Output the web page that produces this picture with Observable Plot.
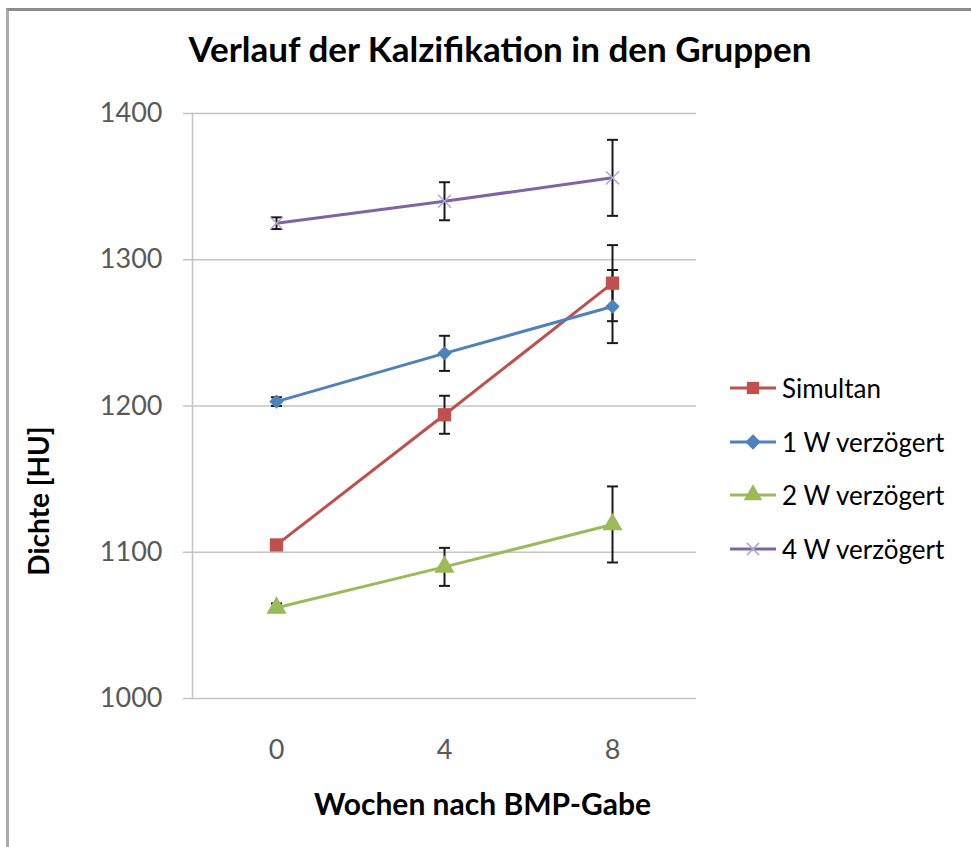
<!DOCTYPE html>
<html><head><meta charset="utf-8">
<script src="https://cdn.jsdelivr.net/npm/d3@7"></script>
<script src="https://cdn.jsdelivr.net/npm/@observablehq/plot@0.6"></script>
<style>
body{margin:0;background:#fff;}
#wrap{position:relative;width:971px;height:847px;overflow:hidden;font-family:Lato,"Open Sans",sans-serif;}
#frame{position:absolute;left:6px;top:8px;right:-10px;bottom:-10px;border-left:3px solid #aaaaaa;border-top:3px solid #8c8c8c;}
#chart{position:absolute;left:0;top:0;}
#title{position:absolute;left:0;width:1000px;top:31px;line-height:35px;text-align:center;font-weight:bold;font-size:35px;color:#000;white-space:nowrap;}
.leg{position:absolute;left:728px;height:30px;display:flex;align-items:center;font-size:26px;color:#000;white-space:nowrap;}
.leg svg{margin-right:4px;}
</style>
</head><body>
<div id="wrap">
  <div id="frame"></div>
  <div id="chart"></div>
  <div id="title"></div>
  <div id="legend"></div>
</div>
<script>
const titleText = "Verlauf der Kalzifikation in den Gruppen";
const xLabel = "Wochen nach BMP-Gabe";
const yLabel = "Dichte [HU]";
const weeks = ["0", "4", "8"];
const yTicks = [1000, 1100, 1200, 1300, 1400];
const groups = ["Simultan", "1 W verzögert", "2 W verzögert", "4 W verzögert"];
const colors = ["#C0504D", "#4F81BD", "#9BBB59", "#8064A2"];
const symbols = ["square", "diamond2", "triangle", "times"];

const simultan = [1105, 1194, 1284];
const simultanErr = [3, 13, 26];
const w1 = [1203, 1236, 1268];
const w1Err = [3, 12, 25];
const w2 = [1062, 1090, 1119];
const w2Err = [3, 13, 26];
const w4 = [1325, 1340, 1356];
const w4Err = [4, 13, 26];

const values = [simultan, w1, w2, w4];
const errors = [simultanErr, w1Err, w2Err, w4Err];

const rows = groups.flatMap((g, i) => weeks.map((w, j) => ({group: g, week: w, value: values[i][j], err: errors[i][j]})));

document.getElementById("title").textContent = titleText;

// horizontal cap symbol for error bars
const capSymbol = {draw(ctx, size) { const w = 5.5; ctx.moveTo(-w, 0); ctx.lineTo(w, 0); }};

const dotMarks = groups.map((g, i) => {
  const data = rows.filter(d => d.group === g);
  if (symbols[i] === "times") {
    return Plot.dot(data, {x: "week", y: "value", symbol: symbols[i], r: 6, stroke: "#b6a6d8", strokeWidth: 1.5, fill: "none"});
  }
  return Plot.dot(data, {x: "week", y: "value", symbol: symbols[i], r: symbols[i] === "diamond2" ? 6.5 : 7.5, fill: colors[i], stroke: "none"});
});

const chart = Plot.plot({
  width: 971,
  height: 847,
  marginLeft: 192,
  marginRight: 275,
  marginTop: 113,
  marginBottom: 149,
  style: {fontFamily: "Lato, 'Open Sans', sans-serif", background: "transparent", overflow: "visible"},
  x: {type: "point", domain: weeks, padding: 0.5},
  y: {domain: [1000, 1400]},
  color: {domain: groups, range: colors},
  marks: [
    Plot.ruleY(yTicks, {stroke: "#c4c4c4", strokeWidth: 1.5, insetLeft: -9}),
    Plot.frame({anchor: "left", stroke: "#c4c4c4", strokeWidth: 1.5}),
    Plot.axisY({ticks: yTicks, tickSize: 0, tickPadding: 30, tickFormat: "d", fontSize: 27, fill: "#595959", label: null}),
    Plot.axisX({tickSize: 0, tickPadding: 41, fontSize: 27, fill: "#595959", label: null}),
    Plot.line(rows, {x: "week", y: "value", z: "group", stroke: "group", strokeWidth: 3}),
    Plot.ruleX(rows, {x: "week", y1: d => d.value - d.err, y2: d => d.value + d.err, stroke: "#1a1a1a", strokeWidth: 2}),
    Plot.dot(rows, {x: "week", y: d => d.value - d.err, symbol: capSymbol, stroke: "#1a1a1a", strokeWidth: 2, fill: "none"}),
    Plot.dot(rows, {x: "week", y: d => d.value + d.err, symbol: capSymbol, stroke: "#1a1a1a", strokeWidth: 2, fill: "none"}),
    ...dotMarks,
    Plot.text([xLabel], {text: d => d, frameAnchor: "bottom", textAnchor: "middle", lineAnchor: "bottom", dx: 38, dy: 116, fontSize: 30, fontWeight: "bold", fill: "#000"}),
    Plot.text([yLabel], {text: d => d, frameAnchor: "left", textAnchor: "middle", lineAnchor: "bottom", rotate: -90, dx: -144, dy: 95, fontSize: 28, fontWeight: "bold", fill: "#000"})
  ]
});
document.getElementById("chart").appendChild(chart);

// Legend
const legendTops = [373, 427, 480, 534];
const legend = d3.select("#legend");
const symMap = {square: d3.symbolSquare, diamond2: d3.symbolDiamond2, triangle: d3.symbolTriangle, times: d3.symbolTimes};
groups.forEach((g, i) => {
  const item = legend.append("div").attr("class", "leg").style("top", legendTops[i] + "px");
  const svg = item.append("svg").attr("width", 50).attr("height", 24);
  svg.append("line").attr("x1", 2).attr("x2", 48).attr("y1", 12).attr("y2", 12).attr("stroke", colors[i]).attr("stroke-width", 3);
  const isTimes = symbols[i] === "times";
  svg.append("path")
    .attr("transform", "translate(25,12)")
    .attr("d", d3.symbol(symMap[symbols[i]], isTimes ? 100 : 150)())
    .attr("fill", isTimes ? "none" : colors[i])
    .attr("stroke", isTimes ? "#b6a6d8" : "none")
    .attr("stroke-width", 1.5);
  item.append("span").text(g);
});
</script>
</body></html>
